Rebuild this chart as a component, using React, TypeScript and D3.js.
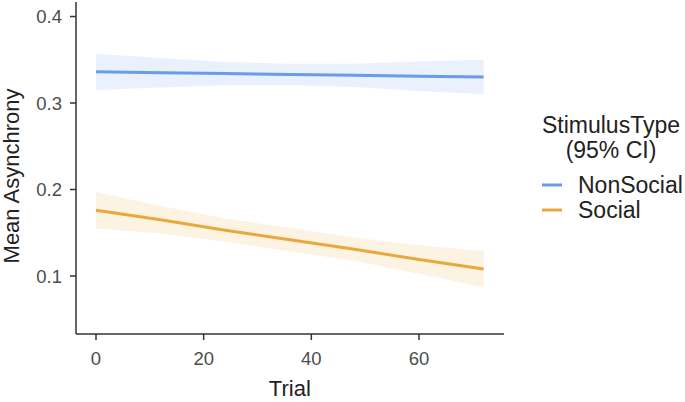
import React from 'react'
import * as d3 from 'd3'

// values
const trials = [0, 12, 24, 36, 48, 60, 72]
const nonSocialFit = [0.336, 0.335, 0.334, 0.333, 0.332, 0.331, 0.330]
const nonSocialLow = [0.315, 0.318, 0.3205, 0.3205, 0.3185, 0.314, 0.310]
const nonSocialHigh = [0.357, 0.352, 0.3475, 0.3455, 0.3455, 0.348, 0.350]
const socialFit = [0.176, 0.165, 0.153, 0.142, 0.131, 0.119, 0.108]
const socialLow = [0.155, 0.149, 0.1395, 0.1285, 0.1175, 0.1025, 0.087]
const socialHigh = [0.197, 0.181, 0.1665, 0.1555, 0.1445, 0.1355, 0.129]
const xTicks = [0, 20, 40, 60]
const yTicks = [0.1, 0.2, 0.3, 0.4]
const groups = ['NonSocial', 'Social']
const colors = ['#6a9be9', '#e8a83c']

const FONT = '"Liberation Sans", Arial, sans-serif'

export default function App() {
  const x = d3.scaleLinear().domain([0, 60]).range([96, 419])
  const y = d3.scaleLinear().domain([0.1, 0.4]).range([276, 16.5])

  const series = [
    { fit: nonSocialFit, low: nonSocialLow, high: nonSocialHigh },
    { fit: socialFit, low: socialLow, high: socialHigh },
  ]

  const line = d3.line<number>().x((_, i) => x(trials[i])).y(d => y(d))
  const band = (lo: number[], hi: number[]) =>
    d3.area<number>()
      .x((_, i) => x(trials[i]))
      .y0((_, i) => y(lo[i]))
      .y1((_, i) => y(hi[i]))(trials)

  return (
    <svg width={685} height={402} style={{ position: 'absolute', left: 0, top: 0, background: '#fff' }}
      fontFamily={FONT}>
      {/* ribbons first, then fitted lines */}
      {series.map((s, k) => (
        <path key={'b' + k} d={band(s.low, s.high) || ''} fill={colors[k]} fillOpacity={0.14} />
      ))}
      {series.map((s, k) => (
        <path key={'l' + k} d={line(s.fit) || ''} fill="none" stroke={colors[k]} strokeWidth={3} />
      ))}

      {/* axes */}
      <line x1={76} x2={76} y1={2} y2={334} stroke="#333" strokeWidth={1.5} />
      <line x1={76} x2={504} y1={334} y2={334} stroke="#333" strokeWidth={1.5} />
      {yTicks.map(t => (
        <g key={t}>
          <line x1={70} x2={76} y1={y(t)} y2={y(t)} stroke="#333" strokeWidth={1.5} />
          <text x={62} y={y(t)} dy="0.36em" textAnchor="end" fontSize={18.5} fill="#4d4d4d">{t.toFixed(1)}</text>
        </g>
      ))}
      {xTicks.map(t => (
        <g key={t}>
          <line x1={x(t)} x2={x(t)} y1={334} y2={340} stroke="#333" strokeWidth={1.5} />
          <text x={x(t)} y={365} textAnchor="middle" fontSize={18.5} fill="#4d4d4d">{t}</text>
        </g>
      ))}
      <text x={x(36)} y={396} textAnchor="middle" fontSize={22} fill="#222">Trial</text>
      <text transform="translate(19,176) rotate(-90)" textAnchor="middle" fontSize={22} fill="#222">Mean Asynchrony</text>

      {/* legend */}
      <text x={611} y={133} textAnchor="middle" fontSize={23} fill="#222">StimulusType</text>
      <text x={611} y={158} textAnchor="middle" fontSize={23} fill="#222">(95% CI)</text>
      {groups.map((g, k) => (
        <g key={g}>
          <line x1={542} x2={562} y1={185 + k * 25} y2={185 + k * 25} stroke={colors[k]} strokeWidth={3} />
          <text x={578} y={185 + k * 25} dy="0.36em" fontSize={23} fill="#222">{g}</text>
        </g>
      ))}
    </svg>
  )
}
